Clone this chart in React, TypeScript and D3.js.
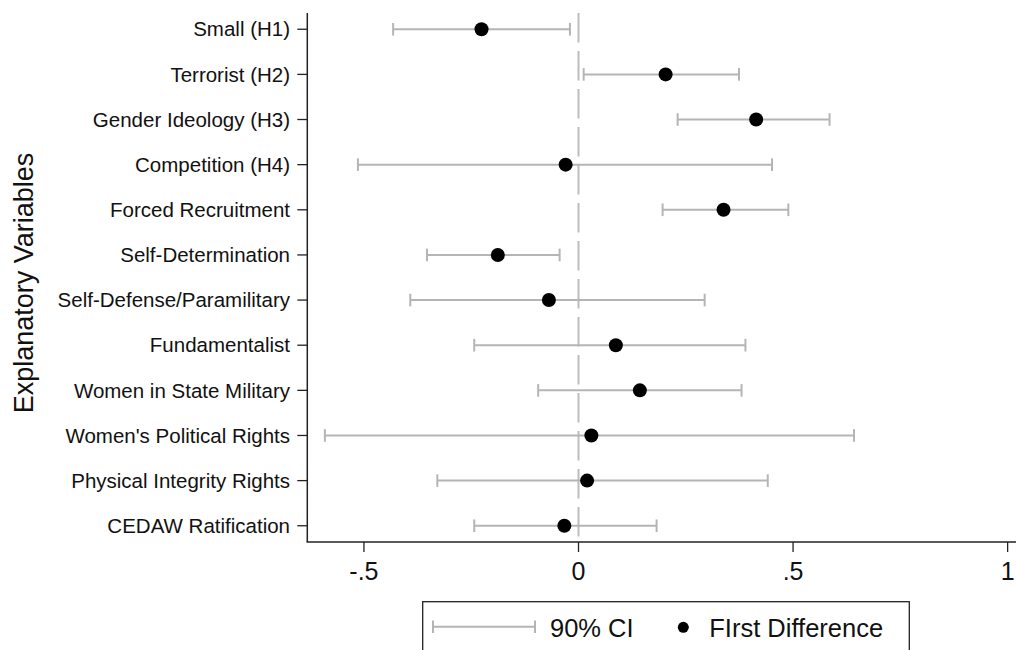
import React from "react";
import * as d3 from "d3";

// explanatory variables, top to bottom
const variables = [
  "Small (H1)",
  "Terrorist (H2)",
  "Gender Ideology (H3)",
  "Competition (H4)",
  "Forced Recruitment",
  "Self-Determination",
  "Self-Defense/Paramilitary",
  "Fundamentalist",
  "Women in State Military",
  "Women's Political Rights",
  "Physical Integrity Rights",
  "CEDAW Ratification",
];

// first differences and 90% CI bounds
const firstDiff = [-0.226, 0.203, 0.414, -0.03, 0.338, -0.188, -0.069, 0.087, 0.143, 0.03, 0.02, -0.033];
const ciLow = [-0.432, 0.012, 0.231, -0.514, 0.196, -0.353, -0.392, -0.243, -0.094, -0.591, -0.329, -0.243];
const ciHigh = [-0.02, 0.374, 0.585, 0.451, 0.489, -0.044, 0.294, 0.389, 0.38, 0.642, 0.441, 0.182];

const xTicks = [-0.5, 0, 0.5, 1];
const xTickLabels = ["-.5", "0", ".5", "1"];

const width = 1016;
const height = 650;
const font = "'Liberation Sans', Arial, Helvetica, sans-serif";
const ciColor = "#b5b5b5";
const axisColor = "#222";

const App = () => {
  const plotLeft = 307.3;
  const plotTop = 13;
  const plotBottom = 542;

  const x = d3.scaleLinear().domain([-0.632, 1.03]).range([plotLeft, 1020.5]);
  const y = d3.scalePoint<string>().domain(variables).range([plotTop, plotBottom]).padding(0.36);
  const cap = 6.3;

  return (
    <svg
      width={width}
      height={height}
      style={{ position: "absolute", left: 0, top: 0, background: "#fff" }}
      fontFamily={font}
    >
      {/* zero reference line */}
      <line
        x1={x(0)}
        x2={x(0)}
        y1={plotTop}
        y2={plotBottom}
        stroke="#bdbdbd"
        strokeWidth={2}
        strokeDasharray="29.5 8.5"
      />

      {/* confidence intervals */}
      {variables.map((v, i) => {
        const yy = y(v) as number;
        return (
          <g key={"ci" + i} stroke={ciColor} strokeWidth={2}>
            <line x1={x(ciLow[i])} x2={x(ciHigh[i])} y1={yy} y2={yy} />
            <line x1={x(ciLow[i])} x2={x(ciLow[i])} y1={yy - cap} y2={yy + cap} />
            <line x1={x(ciHigh[i])} x2={x(ciHigh[i])} y1={yy - cap} y2={yy + cap} />
          </g>
        );
      })}

      {/* point estimates */}
      {variables.map((v, i) => (
        <circle key={"pt" + i} cx={x(firstDiff[i])} cy={y(v) as number} r={7} fill="#000" />
      ))}

      {/* y axis */}
      <line x1={plotLeft} x2={plotLeft} y1={plotTop} y2={plotBottom} stroke={axisColor} strokeWidth={1.5} />
      {variables.map((v) => {
        const yy = y(v) as number;
        return (
          <g key={"yt" + v}>
            <line x1={plotLeft - 10} x2={plotLeft} y1={yy} y2={yy} stroke={axisColor} strokeWidth={1.3} />
            <text x={290} y={yy + 7.2} textAnchor="end" fontSize={20.5} fill="#111">
              {v}
            </text>
          </g>
        );
      })}
      <text
        transform={`translate(33,283) rotate(-90)`}
        textAnchor="middle"
        fontSize={27}
        fill="#111"
      >
        Explanatory Variables
      </text>

      {/* x axis */}
      <line x1={plotLeft - 0.75} x2={width} y1={plotBottom} y2={plotBottom} stroke={axisColor} strokeWidth={1.5} />
      {xTicks.map((t, i) => (
        <g key={"xt" + i}>
          <line x1={x(t)} x2={x(t)} y1={plotBottom} y2={plotBottom + 10} stroke={axisColor} strokeWidth={1.3} />
          <text x={x(t)} y={580} textAnchor="middle" fontSize={25} fill="#111">
            {xTickLabels[i]}
          </text>
        </g>
      ))}

      {/* legend */}
      <rect x={422.7} y={601.7} width={486.6} height={70} fill="none" stroke={axisColor} strokeWidth={1.3} />
      <g stroke={ciColor} strokeWidth={2}>
        <line x1={433} x2={535} y1={626.7} y2={626.7} />
        <line x1={433} x2={433} y1={626.7 - cap} y2={626.7 + cap} />
        <line x1={535} x2={535} y1={626.7 - cap} y2={626.7 + cap} />
      </g>
      <text x={550} y={636.7} fontSize={25.5} fill="#111">
        90% CI
      </text>
      <circle cx={683.3} cy={627.3} r={5.5} fill="#000" />
      <text x={709.3} y={636.7} fontSize={25.5} fill="#111">
        FIrst Difference
      </text>
    </svg>
  );
};

export default App;
